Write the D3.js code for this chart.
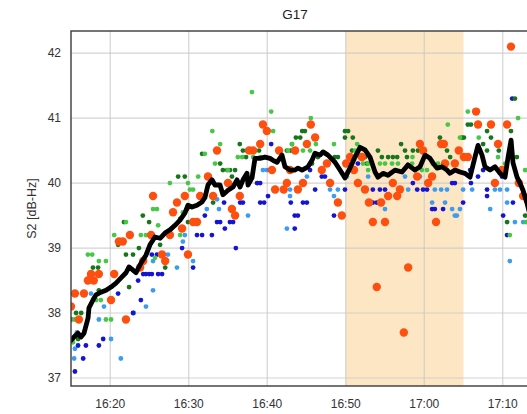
<!DOCTYPE html>
<html>
<head>
<meta charset="utf-8">
<script src="https://cdn.jsdelivr.net/npm/d3@7/dist/d3.min.js"></script>
<style>
  html, body { margin: 0; padding: 0; background: #fff; }
  svg { display: block; font-family: "Liberation Sans", Arial, sans-serif; }
</style>
</head>
<body>
<div id="chart"></div>
<script>
// time in minutes after 16:00, value in dB-Hz
const TITLE = "G17"
const Y_LABEL = "S2 [dB-Hz]"
const Y_TICKS = [37, 38, 39, 40, 41, 42]
const SHADE = [50, 65]

const meanT = [15.0,15.38,15.89,16.27,16.66,17.17,17.29,17.8,18.18,18.82,19.46,20.1,20.73,21.37,22.01,22.39,22.9,23.28,23.92,24.55,25.06,25.7,26.34,26.97,27.61,28.25,28.89,29.52,29.9,30.41,31.05,31.69,32.07,32.45,32.96,33.34,33.98,34.36,35.0,35.64,36.15,36.53,36.91,37.42,37.55,38.06,38.44,39.08,39.71,40.35,40.73,41.24,41.88,42.26,42.9,43.54,43.92,44.43,45.19,45.7,46.08,46.72,47.1,47.74,48.63,49.27,49.9,50.54,51.18,51.82,52.45,53.09,53.73,54.11,54.75,55.38,56.27,57.17,57.93,58.82,59.46,60.1,60.73,61.11,61.62,62.26,62.9,63.28,63.92,64.55,65.19,65.83,66.46,66.85,67.36,67.74,68.38,69.01,69.65,70.29,70.68,71.06,71.31,71.82,72.2,72.58,73.09,73.47]
const meanV = [37.58,37.63,37.69,37.63,37.69,37.92,38.08,38.2,38.28,38.32,38.35,38.4,38.46,38.54,38.62,38.71,38.66,38.62,38.77,38.89,39.05,39.17,39.15,39.23,39.28,39.35,39.43,39.54,39.66,39.63,39.66,39.71,39.78,39.97,40.05,39.97,39.97,39.82,39.89,39.94,40.05,39.94,40.05,40.15,39.97,40.08,40.38,40.38,40.4,40.38,40.35,40.32,40.43,40.25,40.2,40.2,40.23,40.2,40.25,40.35,40.46,40.43,40.48,40.43,40.32,40.2,40.08,40.23,40.4,40.55,40.51,40.4,40.17,40.09,40.15,40.12,40.2,40.17,40.28,40.2,40.25,40.43,40.38,40.31,40.23,40.25,40.2,40.15,40.2,40.17,40.15,40.09,40.4,40.58,40.43,40.25,40.2,40.25,40.15,40.09,40.4,40.66,40.31,40.09,40.0,39.89,39.69,39.51]

const darkGreen = [[15.0,37.9],[15.65,38.0],[16.3,38.0],[15.9,37.6],[17.8,38.7],[18.45,38.7],[18.55,38.35],[21.0,39.05],[22.0,38.9],[22.9,38.9],[22.4,38.4],[21.75,39.4],[23.65,39.0],[24.95,39.4],[24.15,39.5],[26.35,39.05],[27.0,38.7],[28.65,40.1],[29.5,40.1],[28.9,39.45],[29.9,39.4],[29.8,39.6],[31.7,40.45],[33.1,39.7],[34.0,40.3],[34.35,40.2],[34.9,40.2],[35.25,40.2],[35.9,40.2],[35.5,40.1],[36.5,40.6],[36.9,40.5],[37.4,40.5],[37.3,40.4],[38.95,40.5],[42.5,40.5],[43.0,40.5],[43.15,40.6],[43.65,40.7],[44.2,40.7],[44.45,40.8],[44.8,40.8],[45.7,40.3],[46.45,40.4],[48.6,40.4],[49.0,40.4],[49.9,40.8],[50.3,40.8],[49.9,40.7],[50.9,40.7],[50.8,40.5],[52.7,40.3],[52.45,40.4],[54.1,40.5],[54.6,40.4],[55.4,40.4],[56.0,40.4],[56.55,40.4],[57.05,40.6],[57.55,40.5],[57.8,40.4],[58.55,40.5],[59.2,40.5],[62.0,40.7],[62.9,40.5],[63.3,40.4],[64.8,40.7],[65.05,40.7],[65.55,40.9],[65.95,40.9],[67.5,40.6],[68.0,40.8],[68.0,40.5],[68.5,40.7],[69.5,40.5],[71.05,40.8],[71.55,41.3],[71.8,40.4],[70.55,39.4],[72.85,39.5]]

const lightGreen = [[15.25,37.55],[15.4,37.9],[17.15,38.9],[17.7,38.9],[17.3,38.55],[18.2,38.2],[18.8,38.2],[18.55,38.8],[19.45,38.8],[19.45,37.9],[20.1,37.9],[20.5,39.2],[22.0,39.4],[23.9,39.2],[24.55,39.2],[25.45,39.6],[25.95,39.6],[25.7,38.85],[26.1,39.35],[27.6,40.0],[28.9,39.2],[29.25,39.55],[30.15,39.9],[30.55,39.9],[32.05,40.45],[31.2,40.1],[29.9,40.0],[33.0,40.8],[33.35,40.3],[34.0,40.6],[35.0,40.2],[36.25,40.4],[36.8,40.4],[38.05,41.4],[38.2,40.4],[38.45,40.5],[39.1,40.4],[39.7,40.4],[40.5,41.1],[40.75,40.8],[42.65,40.5],[43.15,40.6],[44.55,40.5],[45.45,40.5],[45.55,41.0],[46.2,40.6],[48.5,40.6],[50.3,40.4],[51.2,40.5],[51.45,40.6],[52.2,40.3],[52.85,40.3],[52.85,40.2],[54.35,40.3],[55.0,40.3],[55.9,40.3],[56.65,40.3],[58.45,40.3],[58.5,40.4],[59.7,40.2],[60.35,40.2],[61.1,40.3],[61.75,40.3],[62.65,40.3],[63.0,40.9],[64.55,40.7],[65.55,41.1],[66.95,40.7],[69.4,40.4],[70.3,40.3],[71.95,41.0],[72.85,40.2],[70.9,39.2],[72.95,39.4]]

const blue = [[15.5,37.1],[15.9,37.5],[16.55,37.3],[16.9,37.5],[18.55,37.5],[19.1,37.6],[21.0,38.3],[22.9,38.0],[23.55,38.5],[23.9,38.2],[24.2,38.6],[24.55,38.6],[24.95,38.6],[25.3,38.6],[26.1,38.6],[26.6,38.6],[25.3,38.9],[25.95,38.9],[29.15,39.0],[30.55,38.7],[31.05,39.2],[31.7,39.2],[32.05,39.5],[32.95,39.2],[33.6,39.4],[34.0,39.4],[34.5,39.7],[34.6,39.3],[35.25,39.4],[35.65,39.4],[36.0,39.0],[36.55,39.7],[36.9,39.7],[38.7,40.0],[39.1,40.0],[39.1,39.7],[39.6,39.7],[40.1,39.8],[40.5,40.6],[40.35,40.2],[43.0,39.7],[43.5,39.5],[43.9,39.5],[43.5,39.3],[44.55,39.7],[45.05,39.7],[45.45,40.2],[46.1,39.9],[46.95,40.1],[47.35,40.1],[48.5,39.5],[49.9,39.9],[51.55,40.3],[53.45,39.9],[54.35,39.9],[55.0,39.9],[53.45,39.7],[53.95,39.7],[58.55,40.0],[59.1,39.9],[59.85,39.9],[60.35,39.9],[61.0,39.6],[61.35,39.6],[62.4,39.6],[63.55,40.0],[63.9,40.0],[64.95,39.7],[65.85,40.2],[65.95,40.0],[66.85,40.1],[67.5,40.2],[68.0,39.9],[68.0,39.8],[69.9,40.1],[70.05,39.5],[71.2,41.3],[71.3,39.7],[70.55,39.2]]

const lightBlue = [[15.4,37.3],[15.75,37.7],[15.5,37.45],[17.55,38.3],[18.55,37.9],[19.2,38.1],[20.1,37.6],[21.35,37.3],[23.0,38.0],[24.55,38.1],[25.45,38.35],[25.45,38.8],[27.35,38.9],[28.5,38.7],[29.25,39.1],[29.5,39.2],[30.55,38.8],[32.3,39.6],[33.6,39.75],[33.85,39.6],[37.55,39.5],[38.8,40.0],[39.45,40.2],[39.95,40.2],[42.5,39.3],[42.9,39.8],[42.9,39.9],[45.05,40.1],[48.0,39.9],[48.5,39.8],[49.0,39.9],[50.15,40.1],[52.85,40.1],[55.0,39.6],[57.55,40.1],[57.95,39.9],[59.45,40.1],[61.0,39.7],[61.35,39.9],[62.15,39.9],[62.9,39.9],[62.65,39.7],[63.55,39.6],[63.9,39.5],[64.55,39.6],[64.15,39.5],[64.95,39.9],[66.1,39.9],[68.4,39.6],[69.0,39.9],[69.65,39.9],[70.55,39.9],[70.55,39.7],[71.55,39.4],[72.6,39.4],[70.9,38.8]]

const orange = [[15.0,38.1],[15.5,38.3],[16.65,38.3],[16.0,37.9],[17.15,38.5],[17.9,38.5],[17.55,38.6],[18.55,38.6],[20.1,38.2],[20.5,38.6],[21.1,39.1],[21.6,39.1],[22.0,37.9],[22.5,39.2],[23.8,38.7],[24.2,38.8],[25.2,39.2],[25.45,39.8],[26.6,38.9],[27.0,38.8],[27.6,39.2],[28.0,39.55],[28.5,39.7],[29.15,39.3],[29.5,39.8],[29.9,38.9],[30.55,39.4],[31.05,39.4],[31.45,39.8],[32.45,40.1],[33.6,40.5],[33.1,39.8],[35.0,40.0],[35.5,39.6],[35.9,39.5],[36.5,39.8],[37.7,40.5],[38.2,40.5],[39.1,40.6],[39.45,40.9],[39.95,40.8],[40.6,40.2],[41.0,39.9],[41.5,40.5],[42.1,39.9],[42.5,40.0],[43.55,40.5],[43.9,39.9],[42.9,40.2],[44.55,40.0],[45.05,40.6],[45.55,40.9],[46.1,40.7],[46.95,40.2],[47.6,40.3],[48.0,40.0],[49.0,39.7],[49.5,39.5],[50.05,40.3],[50.55,40.4],[51.05,40.2],[51.55,40.0],[52.05,40.4],[52.45,39.9],[52.95,39.7],[54.5,39.7],[53.45,39.4],[55.0,39.4],[55.4,39.8],[56.0,40.0],[56.55,39.8],[56.9,39.9],[59.1,40.1],[59.45,40.6],[59.85,40.5],[60.5,40.0],[61.0,40.1],[61.5,39.4],[62.15,40.6],[62.5,40.6],[53.95,38.4],[57.95,38.7],[57.4,37.7],[62.65,40.3],[63.9,40.3],[64.4,40.5],[65.05,40.4],[65.55,40.4],[66.6,41.1],[66.85,40.9],[68.5,40.9],[69.0,40.0],[69.4,40.6],[69.9,40.2],[70.55,40.9],[71.05,42.1],[72.05,40.0],[72.6,39.8]]

const SERIES = [
  { data: lightBlue,  color: "#3b9cf0", r: 2.4 },
  { data: blue,       color: "#1414d2", r: 2.4 },
  { data: darkGreen,  color: "#17761b", r: 2.4 },
  { data: lightGreen, color: "#45c845", r: 2.4 },
  { data: orange,     color: "#ff4f0f", r: 4.2 },
]

const W = 527, H = 414
const margin = { top: 31, left: 71, bottom: 28 }
const plotRight = 542  // frame runs past the visible window

const base = new Date(2020, 0, 1, 16, 0, 0).getTime()
const toDate = m => new Date(base + m * 60000)

const x = d3.scaleTime()
  .domain([toDate(15), toDate(75)])
  .range([margin.left, plotRight])

const y = d3.scaleLinear()
  .domain([36.877, 42.34])
  .range([H - margin.bottom, margin.top])

const svg = d3.select("#chart").append("svg")
  .attr("width", W)
  .attr("height", H)

const clip = svg.append("defs").append("clipPath").attr("id", "plot-clip")
clip.append("rect")
  .attr("x", margin.left).attr("y", margin.top)
  .attr("width", plotRight - margin.left).attr("height", H - margin.bottom - margin.top)

// shaded window
svg.append("rect")
  .attr("x", x(toDate(SHADE[0])))
  .attr("y", margin.top)
  .attr("width", x(toDate(SHADE[1])) - x(toDate(SHADE[0])))
  .attr("height", H - margin.bottom - margin.top)
  .attr("fill", "#fde6c4")

// grid
const xTicks = x.ticks(d3.timeMinute.every(10))
svg.append("g")
  .selectAll("line")
  .data(xTicks)
  .join("line")
  .attr("x1", d => x(d)).attr("x2", d => x(d))
  .attr("y1", margin.top).attr("y2", H - margin.bottom)
  .attr("stroke", "#c8c8c8")
  .attr("stroke-opacity", 0.8)
  .attr("stroke-width", 1.2)

svg.append("g")
  .selectAll("line")
  .data(Y_TICKS)
  .join("line")
  .attr("x1", margin.left).attr("x2", plotRight)
  .attr("y1", d => y(d)).attr("y2", d => y(d))
  .attr("stroke", "#c8c8c8")
  .attr("stroke-opacity", 0.8)
  .attr("stroke-width", 1.2)

// points
const pts = svg.append("g").attr("clip-path", "url(#plot-clip)")
SERIES.forEach(s => {
  pts.append("g")
    .selectAll("circle")
    .data(s.data)
    .join("circle")
    .attr("cx", d => x(toDate(d[0])))
    .attr("cy", d => y(d[1]))
    .attr("r", s.r)
    .attr("fill", s.color)
})

// mean line
const line = d3.line()
  .x((d, i) => x(toDate(meanT[i])))
  .y(d => y(d))
  .curve(d3.curveLinear)

pts.append("path")
  .datum(meanV)
  .attr("d", line)
  .attr("fill", "none")
  .attr("stroke", "#000")
  .attr("stroke-width", 4.8)
  .attr("stroke-linejoin", "round")
  .attr("stroke-linecap", "round")

// frame
svg.append("rect")
  .attr("x", margin.left).attr("y", margin.top)
  .attr("width", plotRight - margin.left)
  .attr("height", H - margin.bottom - margin.top)
  .attr("fill", "none")
  .attr("stroke", "#3a3a3a")
  .attr("stroke-width", 1.4)

// tick labels
svg.append("g")
  .selectAll("text")
  .data(xTicks)
  .join("text")
  .attr("x", d => x(d))
  .attr("y", 408)
  .attr("text-anchor", "middle")
  .attr("font-size", "12px")
  .attr("fill", "#333")
  .text(d3.timeFormat("%H:%M"))

svg.append("g")
  .selectAll("text")
  .data(Y_TICKS)
  .join("text")
  .attr("x", 61)
  .attr("y", d => y(d) + 4)
  .attr("text-anchor", "end")
  .attr("font-size", "12px")
  .attr("fill", "#333")
  .text(d => d)

svg.append("text")
  .attr("transform", `translate(36, ${(margin.top + H - margin.bottom) / 2}) rotate(-90)`)
  .attr("text-anchor", "middle")
  .attr("font-size", "12.5px")
  .attr("fill", "#333")
  .text(Y_LABEL)

svg.append("text")
  .attr("x", 295)
  .attr("y", 19)
  .attr("text-anchor", "middle")
  .attr("font-size", "13.5px")
  .attr("fill", "#222")
  .text(TITLE)
</script>
</body>
</html>
